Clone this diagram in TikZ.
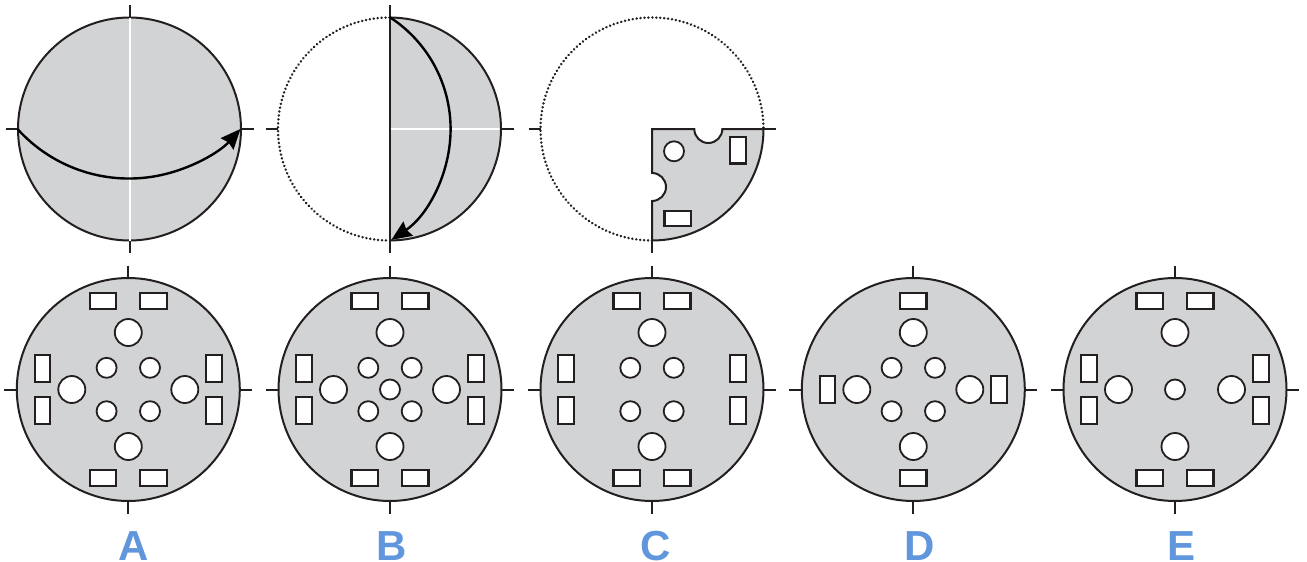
\documentclass[tikz,border=0pt]{standalone}
\usepackage{fontspec}
\setmainfont{Liberation Sans}
\usetikzlibrary{arrows.meta}
\definecolor{ink}{HTML}{231F20}
\definecolor{plate}{HTML}{D1D3D4}
\definecolor{lab}{HTML}{5F96DC}
\tikzset{
  outline/.style={draw=ink,line width=1pt},
  tick/.style={draw=ink,line width=1pt},
  dots/.style={draw=ink,line width=1.35pt,line cap=round,dash pattern=on 0.02pt off 1.95pt},
  hair/.style={draw=white,line width=1pt},
  holeC/.style={draw=ink,fill=white,line width=0.9pt},
  holeR/.style={draw=ink,fill=white,line width=1.05pt},
  sweep/.style={draw=black,line width=1.2pt,-{Stealth[length=10pt,width=8.5pt,inset=1pt]}},
  letter/.style={text=lab,font=\fontsize{21}{21}\selectfont\bfseries,inner sep=0pt,anchor=base}
}
\newcommand{\ticksAll}[2]{%
  \draw[tick] (#1,#2-124) -- (#1,#2-111.5);
  \draw[tick] (#1,#2+111.5) -- (#1,#2+124);
  \draw[tick] (#1-124,#2) -- (#1-111.5,#2);
  \draw[tick] (#1+111.5,#2) -- (#1+124,#2);
}
\newcommand{\bigc}[2]{\draw[holeC] (#1,#2) circle[radius=13.5];}
\newcommand{\smallc}[2]{\draw[holeC] (#1,#2) circle[radius=10];}
\newcommand{\rectH}[2]{\draw[holeR] (#1-13.2,#2-7.8) rectangle (#1+13.2,#2+7.8);}
\newcommand{\rectV}[2]{\draw[holeR] (#1-7.8,#2-13.2) rectangle (#1+7.8,#2+13.2);}
\newcommand{\disc}[2]{%
  \draw[outline,fill=plate] (#1,#2) circle[radius=111.5];
  \ticksAll{#1}{#2}
}
\newcommand{\fourbig}[2]{\bigc{#1}{#2-57}\bigc{#1}{#2+57}\bigc{#1-56.5}{#2}\bigc{#1+56.5}{#2}}
\newcommand{\foursmall}[2]{\smallc{#1-21.7}{#2-21.7}\smallc{#1+21.7}{#2-21.7}\smallc{#1-21.7}{#2+21.7}\smallc{#1+21.7}{#2+21.7}}
\newcommand{\toptwo}[2]{\rectH{#1-25.3}{#2-88.7}\rectH{#1+25.3}{#2-88.7}\rectH{#1-25.3}{#2+88.7}\rectH{#1+25.3}{#2+88.7}}
\newcommand{\sidetwo}[2]{\rectV{#1-85.8}{#2-21}\rectV{#1-85.8}{#2+21}\rectV{#1+85.8}{#2-21}\rectV{#1+85.8}{#2+21}}
\begin{document}
\begin{tikzpicture}[x=0.5pt,y=-0.5pt]
\useasboundingbox (0,0) rectangle (1307,562);
% --- top A
\disc{129.5}{129}
\draw[hair] (129.5,17.5) -- (129.5,240.5);
\draw[sweep] (17.5,129) arc[start angle=137.9,end angle=42.1,radius=150.3];
% --- top B
\fill[plate] (389.5,17.5) arc[start angle=-90,end angle=90,radius=111.5] -- cycle;
\draw[hair] (389.5,129) -- (501,129);
\draw[outline] (389.5,17.5) arc[start angle=-90,end angle=90,radius=111.5];
\draw[dots] (389.5,17.5) arc[start angle=270,end angle=90,radius=111.5];
\draw[tick] (389.5,5) -- (389.5,253);
\draw[tick] (265.5,129) -- (278,129);
\draw[tick] (501,129) -- (513.5,129);
\draw[sweep] (389.5,17) arc[start angle=-57.2,end angle=56.2,radius=133.3];
% --- top C
\draw[dots] (652,240.5) arc[start angle=90,end angle=360,radius=111.5];
\draw[tick] (528.5,129) -- (540.5,129);
\draw[outline,fill=plate] (652,129) -- (694.3,129)
  arc[start angle=180,end angle=0,radius=14] -- (763.5,129)
  arc[start angle=0,end angle=90,radius=111.5] -- (652,201)
  arc[start angle=90,end angle=-90,radius=14] -- cycle;
\draw[tick] (763.5,129) -- (776,129);
\draw[tick] (652,240.5) -- (652,253);
\smallc{674}{151.3}
\rectV{738.2}{150.3}
\rectH{677.7}{218.5}
% --- bottom A
\disc{128.3}{389.5}
\toptwo{128.3}{389.5}\sidetwo{128.3}{389.5}\fourbig{128.3}{389.5}\foursmall{128.3}{389.5}
% --- bottom B
\disc{390}{389.5}
\toptwo{390}{389.5}\sidetwo{390}{389.5}\fourbig{390}{389.5}\foursmall{390}{389.5}\smallc{390}{389.5}
% --- bottom C
\disc{652}{389.5}
\toptwo{652}{389.5}\sidetwo{652}{389.5}\bigc{652}{332.5}\bigc{652}{446.5}\foursmall{652}{389.5}
% --- bottom D
\disc{913.3}{389.5}
\rectH{913.3}{300.8}\rectH{913.3}{478.2}\rectV{827.5}{389.5}\rectV{999.1}{389.5}
\fourbig{913.3}{389.5}\foursmall{913.3}{389.5}
% --- bottom E
\disc{1175}{389.5}
\toptwo{1175}{389.5}\sidetwo{1175}{389.5}\fourbig{1175}{389.5}\smallc{1175}{389.5}
% --- letters
\node[letter] (la) at (133.5,560.5) {A};
\node[letter] (lb) at (392,560.5) {B};
\node[letter] (lc) at (655.5,560.5) {C};
\node[letter] (ld) at (919.5,560.5) {D};
\node[letter] (le) at (1181.5,560.5) {E};
\end{tikzpicture}
\end{document}
